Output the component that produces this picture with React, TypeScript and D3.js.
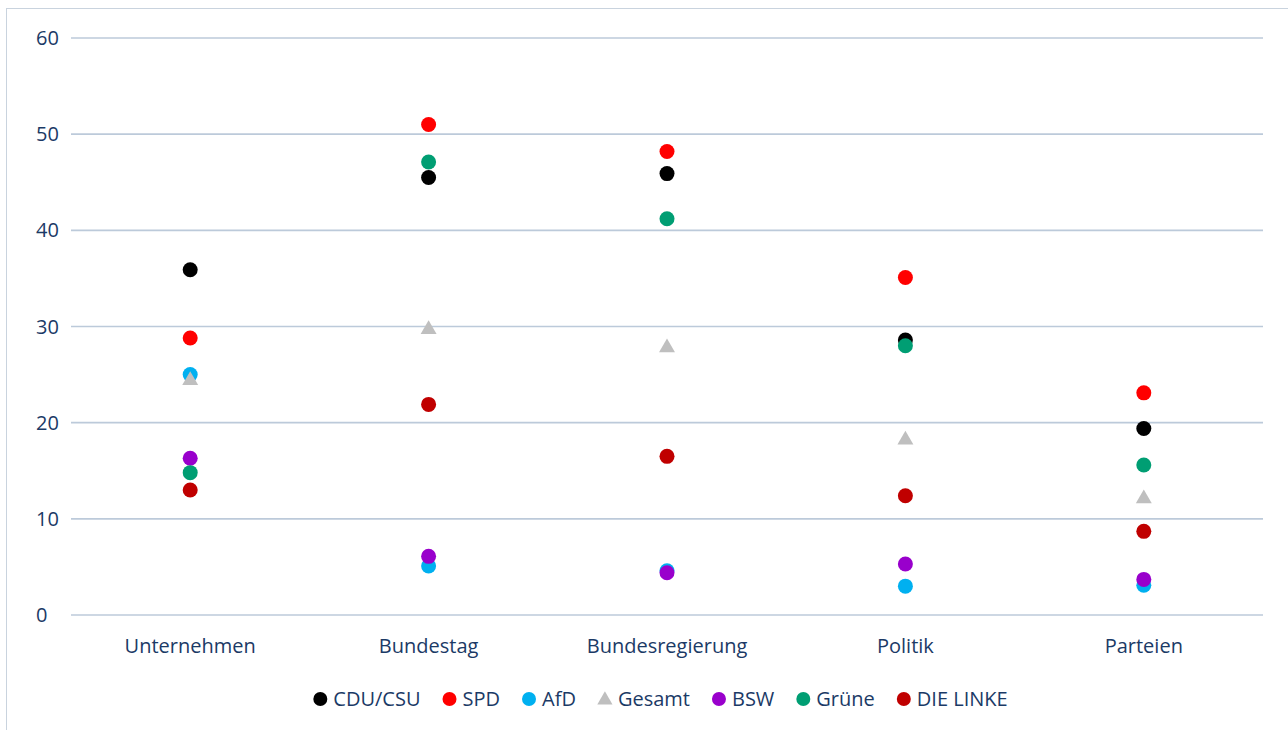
import React, { useRef, useEffect } from "react";
import * as d3 from "d3";

const categories = ["Unternehmen", "Bundestag", "Bundesregierung", "Politik", "Parteien"];
const seriesNames = ["CDU/CSU", "SPD", "AfD", "Gesamt", "BSW", "Grüne", "DIE LINKE"];
const seriesColors = ["#000000", "#ff0000", "#00b0f0", "#bfbfbf", "#9900cc", "#009e73", "#c00000"];

const cduCsu = [35.9, 45.5, 45.9, 28.6, 19.4];
const spd = [28.8, 51.0, 48.2, 35.1, 23.1];
const afd = [25.0, 5.1, 4.6, 3.0, 3.1];
const gesamt = [24.5, 29.8, 27.9, 18.3, 12.2];
const bsw = [16.3, 6.1, 4.4, 5.3, 3.7];
const gruene = [14.8, 47.1, 41.2, 28.0, 15.6];
const dieLinke = [13.0, 21.9, 16.5, 12.4, 8.7];

const yTicks = [0, 10, 20, 30, 40, 50, 60];

export default function App() {
  const svgRef = useRef<SVGSVGElement>(null);

  useEffect(() => {
    const width = 1288;
    const height = 730;
    const textColor = "#1b3a66";
    const font = "'Open Sans', sans-serif";
    const fontSize = "20px";

    const svg = d3.select(svgRef.current);
    svg.selectAll("*").remove();
    svg.attr("width", width).attr("height", height);

    svg.append("rect").attr("width", width).attr("height", height).attr("fill", "#fff");

    // chart frame (runs off the right and bottom edges)
    svg
      .append("rect")
      .attr("x", 6.5)
      .attr("y", 8.5)
      .attr("width", 1300)
      .attr("height", 740)
      .attr("fill", "none")
      .attr("stroke", "#c9d3de")
      .attr("stroke-width", 1);

    const x = d3.scaleBand().domain(categories).range([71, 1263]);
    const y = d3.scaleLinear().domain([0, 60]).range([615, 38]);

    // gridlines
    svg
      .append("g")
      .selectAll("line")
      .data(yTicks)
      .join("line")
      .attr("x1", 71)
      .attr("x2", 1263)
      .attr("y1", (d) => y(d))
      .attr("y2", (d) => y(d))
      .attr("stroke", "#bccada")
      .attr("stroke-width", 1.6);

    // y tick labels
    svg
      .append("g")
      .selectAll("text")
      .data(yTicks)
      .join("text")
      .attr("x", 36)
      .attr("y", (d) => y(d))
      .attr("dy", "0.35em")
      .style("font-family", font)
      .style("font-size", fontSize)
      .style("fill", textColor)
      .text((d) => d);

    // category labels
    svg
      .append("g")
      .selectAll("text")
      .data(categories)
      .join("text")
      .attr("x", (d) => x(d)! + x.bandwidth() / 2)
      .attr("y", 653)
      .attr("text-anchor", "middle")
      .style("font-family", font)
      .style("font-size", fontSize)
      .style("fill", textColor)
      .text((d) => d);

    const allSeries = [cduCsu, spd, afd, gesamt, bsw, gruene, dieLinke];
    const triangle = d3.symbol().type(d3.symbolTriangle).size(110);

    // points, drawn in legend order
    allSeries.forEach((values, i) => {
      const g = svg.append("g");
      const pts = values.map((v, j) => ({ cat: categories[j], v }));
      if (seriesNames[i] === "Gesamt") {
        g.selectAll("path")
          .data(pts)
          .join("path")
          .attr("d", triangle)
          .attr("transform", (d) => `translate(${x(d.cat)! + x.bandwidth() / 2},${y(d.v) + 1})`)
          .attr("fill", seriesColors[i]);
      } else {
        g.selectAll("circle")
          .data(pts)
          .join("circle")
          .attr("cx", (d) => x(d.cat)! + x.bandwidth() / 2)
          .attr("cy", (d) => y(d.v))
          .attr("r", 7.5)
          .attr("fill", seriesColors[i]);
      }
    });

    // legend
    const legend = svg.append("g");
    const items = legend
      .selectAll("g")
      .data(seriesNames)
      .join("g");
    items
      .append("text")
      .attr("x", 13)
      .attr("y", 699)
      .attr("dy", "0.35em")
      .style("font-family", font)
      .style("font-size", fontSize)
      .style("fill", textColor)
      .text((d) => d);
    const legendTri = d3.symbol().type(d3.symbolTriangle).size(100);
    items.each(function (d, i) {
      const el = d3.select(this);
      if (d === "Gesamt") {
        el.append("path").attr("d", legendTri).attr("transform", "translate(0,700)").attr("fill", seriesColors[i]);
      } else {
        el.append("circle").attr("cx", 0).attr("cy", 699).attr("r", 7).attr("fill", seriesColors[i]);
      }
    });
    const widths: number[] = [];
    items.select("text").each(function () {
      widths.push((this as SVGTextElement).getComputedTextLength());
    });
    const gap = 29;
    const total = d3.sum(widths.map((w) => w + 13)) + gap * (widths.length - 1);
    let cx = 657 - total / 2 + 7;
    items.attr("transform", (_, i) => {
      const t = `translate(${cx},0)`;
      cx += widths[i] + 13 + gap;
      return t;
    });
  }, []);

  return <svg ref={svgRef} style={{ position: "absolute", left: 0, top: 0 }}></svg>;
}
